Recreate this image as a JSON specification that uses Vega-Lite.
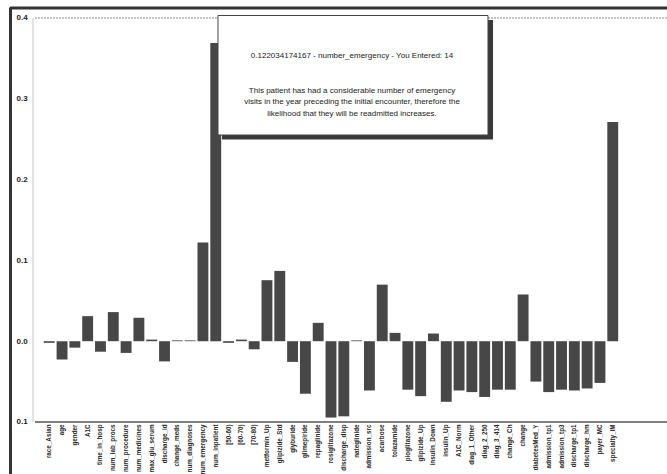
{
  "$schema": "https://vega.github.io/schema/vega-lite/v6.json",
  "width": 600,
  "height": 467,
  "padding": {"left": 31, "top": 7, "right": 36, "bottom": 0},
  "autosize": {"type": "none"},
  "background": "#ffffff",
  "config": {"view": {"stroke": null}, "font": "Liberation Sans"},
  "resolve": {"scale": {"x": "independent"}, "axis": {"x": "independent", "y": "independent"}},
  "layer": [
    {
      "data": {
        "values": [
          {"feature": "race_Asian", "value": -0.002},
          {"feature": "age", "value": -0.0226},
          {"feature": "gender", "value": -0.008},
          {"feature": "A1C", "value": 0.031},
          {"feature": "time_in_hosp", "value": -0.013},
          {"feature": "num_lab_procs", "value": 0.036},
          {"feature": "num_procedure", "value": -0.0145},
          {"feature": "num_medicines", "value": 0.029},
          {"feature": "max_glu_serum", "value": 0.002},
          {"feature": "discharge_id", "value": -0.025},
          {"feature": "change_meds", "value": 0.001},
          {"feature": "num_diagnoses", "value": 0.001},
          {"feature": "num_emergency", "value": 0.122034174167},
          {"feature": "num_inpatient", "value": 0.369},
          {"feature": "[50-60)", "value": -0.002},
          {"feature": "[60-70)", "value": 0.002},
          {"feature": "[70-80)", "value": -0.010},
          {"feature": "metformin_Up", "value": 0.0755},
          {"feature": "glipizide_Std", "value": 0.087},
          {"feature": "glyburide", "value": -0.0256},
          {"feature": "glimepiride", "value": -0.065},
          {"feature": "repaglinide", "value": 0.0227},
          {"feature": "rosiglitazone", "value": -0.0945},
          {"feature": "discharge_disp", "value": -0.093},
          {"feature": "nateglinide", "value": 0.001},
          {"feature": "admission_src", "value": -0.061},
          {"feature": "acarbose", "value": 0.070},
          {"feature": "tolazamide", "value": 0.0103},
          {"feature": "pioglitazone", "value": -0.060},
          {"feature": "glipizide_Up", "value": -0.068},
          {"feature": "insulin_Down", "value": 0.0095},
          {"feature": "insulin_Up", "value": -0.075},
          {"feature": "A1C_Norm", "value": -0.061},
          {"feature": "diag_1_Other", "value": -0.063},
          {"feature": "diag_2_250", "value": -0.069},
          {"feature": "diag_3_414", "value": -0.060},
          {"feature": "change_Ch", "value": -0.060},
          {"feature": "change", "value": 0.0578},
          {"feature": "diabetesMed_Y", "value": -0.050},
          {"feature": "admission_tp1", "value": -0.063},
          {"feature": "admission_tp3", "value": -0.060},
          {"feature": "discharge_tp1", "value": -0.061},
          {"feature": "discharge_hm", "value": -0.0585},
          {"feature": "payer_MC", "value": -0.0516},
          {"feature": "specialty_IM", "value": 0.2714}
        ]
      },
      "mark": {"type": "bar", "color": "#474747"},
      "encoding": {
        "x": {
          "field": "feature",
          "type": "nominal",
          "sort": null,
          "scale": {"paddingInner": 0.15, "paddingOuter": 1},
          "axis": {
            "orient": "bottom",
            "offset": -52,
            "domain": false,
            "ticks": false,
            "grid": false,
            "title": null,
            "labelAngle": -90,
            "labelPadding": 2,
            "labelFontSize": 6.3,
            "labelFontWeight": "bold",
            "labelColor": "#2a2a2a",
            "labelOverlap": false,
            "labelLimit": 0
          }
        },
        "y": {
          "field": "value",
          "type": "quantitative",
          "scale": {"domain": [-0.16436, 0.41361], "nice": false, "zero": false},
          "axis": {
            "orient": "left",
            "offset": 21,
            "values": [-0.1, 0, 0.1, 0.2, 0.3, 0.4],
            "labelExpr": "format(abs(datum.value), '.1f')",
            "ticks": false,
            "grid": false,
            "domain": true,
            "domainColor": "#333333",
            "domainWidth": 3,
            "labelAlign": "left",
            "labelPadding": -6,
            "labelFontSize": 8,
            "labelFontWeight": "bold",
            "labelColor": "#222222",
            "title": null
          }
        }
      }
    },
    {
      "data": {
        "values": [
          {
            "title": "0.122034174167 - number_emergency - You Entered: 14",
            "body": "This patient has had a considerable number of emergency\nvisits in the year preceding the initial encounter, therefore the\nlikelihood that they will be readmitted increases."
          }
        ]
      },
      "layer": [
        {
          "mark": {"type": "rule", "color": "#c8c8c8", "strokeWidth": 1},
          "encoding": {
            "x": {"datum": -1.269, "type": "quantitative", "scale": {"domain": [-1.425, 45.425], "nice": false, "zero": false}, "axis": null},
            "y": {"datum": 0.4, "type": "quantitative", "scale": {"domain": [-0.16436, 0.41361], "nice": false, "zero": false}, "axis": null},
            "y2": {"datum": -0.1}
          }
        },
        {
          "mark": {"type": "rule", "color": "#8a8a8a", "strokeWidth": 1, "strokeDash": [2, 1]},
          "encoding": {
            "x": {"datum": -1.113, "type": "quantitative", "scale": {"domain": [-1.425, 45.425], "nice": false, "zero": false}, "axis": null},
            "x2": {"datum": 48.235},
            "y": {"datum": 0.4, "type": "quantitative", "scale": {"domain": [-0.16436, 0.41361], "nice": false, "zero": false}, "axis": null}
          }
        },
        {
          "mark": {"type": "rule", "color": "#555555", "strokeWidth": 1.5},
          "encoding": {
            "x": {"datum": -1.113, "type": "quantitative", "scale": {"domain": [-1.425, 45.425], "nice": false, "zero": false}, "axis": null},
            "x2": {"datum": 48.235},
            "y": {"datum": -0.1, "type": "quantitative", "scale": {"domain": [-0.16436, 0.41361], "nice": false, "zero": false}, "axis": null}
          }
        },
        {
          "mark": {"type": "rule", "color": "#333333", "strokeWidth": 3},
          "encoding": {
            "x": {"datum": -3.065, "type": "quantitative", "scale": {"domain": [-1.425, 45.425], "nice": false, "zero": false}, "axis": null},
            "x2": {"datum": 48.235},
            "y": {"datum": 0.4125, "type": "quantitative", "scale": {"domain": [-0.16436, 0.41361], "nice": false, "zero": false}, "axis": null}
          }
        },
        {
          "mark": {"type": "rect", "color": "#3a3a3a"},
          "encoding": {
            "x": {"datum": 13.49, "type": "quantitative", "scale": {"domain": [-1.425, 45.425], "nice": false, "zero": false}, "axis": null},
            "x2": {"datum": 34.65},
            "y": {"datum": 0.3975, "type": "quantitative", "scale": {"domain": [-0.16436, 0.41361], "nice": false, "zero": false}, "axis": null},
            "y2": {"datum": 0.2496}
          }
        },
        {
          "mark": {"type": "rect", "fill": "#ffffff", "stroke": "#444444", "strokeWidth": 1},
          "encoding": {
            "x": {"datum": 13.176, "type": "quantitative", "scale": {"domain": [-1.425, 45.425], "nice": false, "zero": false}, "axis": null},
            "x2": {"datum": 34.258},
            "y": {"datum": 0.4031, "type": "quantitative", "scale": {"domain": [-0.16436, 0.41361], "nice": false, "zero": false}, "axis": null},
            "y2": {"datum": 0.2552}
          }
        },
        {
          "mark": {"type": "text", "fontSize": 8, "color": "#1a1a1a", "align": "center", "baseline": "middle"},
          "encoding": {
            "x": {"datum": 23.64, "type": "quantitative", "scale": {"domain": [-1.425, 45.425], "nice": false, "zero": false}, "axis": null},
            "y": {"datum": 0.3533, "type": "quantitative", "scale": {"domain": [-0.16436, 0.41361], "nice": false, "zero": false}, "axis": null},
            "text": {"field": "title"}
          }
        },
        {
          "mark": {"type": "text", "fontSize": 8, "color": "#1a1a1a", "align": "center", "baseline": "middle", "lineBreak": "\n", "lineHeight": 11.7},
          "encoding": {
            "x": {"datum": 23.64, "type": "quantitative", "scale": {"domain": [-1.425, 45.425], "nice": false, "zero": false}, "axis": null},
            "y": {"datum": 0.31, "type": "quantitative", "scale": {"domain": [-0.16436, 0.41361], "nice": false, "zero": false}, "axis": null},
            "text": {"field": "body"}
          }
        }
      ]
    }
  ]
}
